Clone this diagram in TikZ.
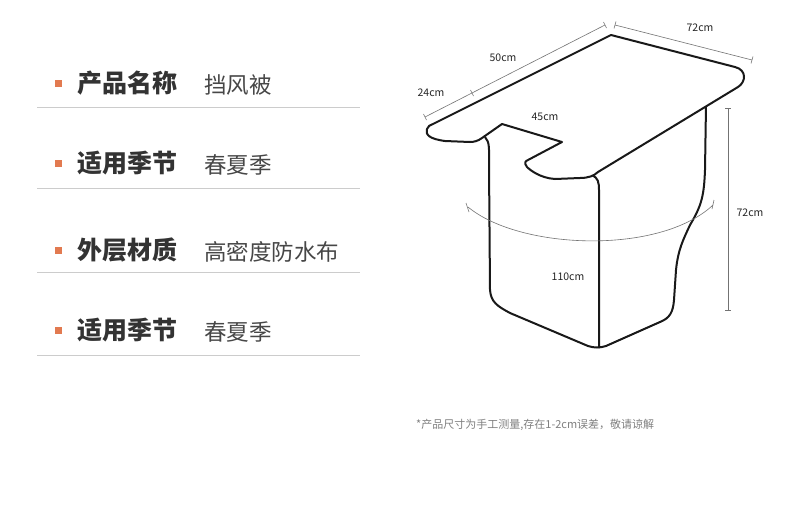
\documentclass[tikz,border=0pt]{standalone}
\usepackage{fontspec}
\setmainfont{Noto Sans CJK SC}
\newfontfamily\cjk{Noto Sans CJK SC}
\definecolor{bul}{RGB}{226,122,80}
\begin{document}
\begin{tikzpicture}[x=1pt,y=-1pt,
  head/.style={anchor=west,inner sep=0pt,font=\cjk\fontsize{25}{27}\selectfont\bfseries,text=black!80},
  val/.style={anchor=west,inner sep=0pt,font=\cjk\fontsize{22.5}{24}\selectfont,text=black!72},
  sep/.style={draw=black!20,line width=0.8pt},
  bullet/.style={fill=bul,minimum size=7pt,inner sep=0pt},
  outline/.style={line width=2pt,line join=round,black!90},
  dim/.style={draw=black!55,line width=0.6pt},
  dimlab/.style={font=\fontsize{10.5}{11}\selectfont,text=black!85,inner sep=0pt}]
\useasboundingbox (0,0) rectangle (790,525);
\fill[white] (0,0) rectangle (790,525);
\foreach \y/\h/\v/\i in {83/产品名称/挡风被/a,163/适用季节/春夏季/b,250/外层材质/高密度防水布/c,330/适用季节/春夏季/d}{
  \node[bullet] (b\i) at (58,\y) {};
  \node[head] (h\i) at (77,\y) {\h};
  \node[val] (v\i) at (204,\y+2) {\v};
}
\foreach \y in {107,188,272,355}{\draw[sep] (37,\y) -- (360,\y);}
% body
\draw[outline] (485,137) .. controls (490,142) and (489,150) .. (489,165) -- (490,290) .. controls (491,302) and (497,306) .. (510,313) -- (588,346) .. controls (594,348) and (600,348) .. (606,346) -- (660,322) .. controls (670,318) and (673,312) .. (674,300) -- (676,270) .. controls (678,250) and (683,240) .. (690,225) .. controls (702,205) and (704,195) .. (705,170) -- (706,105);
\draw[outline] (592,175) .. controls (598,178) and (599,182) .. (599,190) -- (599,348);
% top
\draw[outline,fill=white] (611,35) -- (735,67) .. controls (747,70) and (746,82) .. (738,87) -- (598,172) .. controls (594,176) and (588,178) .. (580,178) -- (555,179) .. controls (540,178) and (530,170) .. (527,167) .. controls (524,163) and (525,161) .. (528,160) -- (562,142) -- (502,124) -- (482,138) .. controls (478,141) and (474,142) .. (470,142) -- (445,141) .. controls (430,139) and (425,135) .. (427,129) .. controls (428,126) and (430,125) .. (433,124) -- cycle;
% dimension lines
\coordinate (d1) at (425,117); \coordinate (d2) at (605,25); \coordinate (dm) at (472,93);
\draw[dim] (d1) -- (d2);
\foreach \c in {d1,d2,dm}{\draw[dim] ([shift={(-1.5,-3)}]\c) -- ([shift={(1.5,3)}]\c);}
\coordinate (e1) at (615,25); \coordinate (e2) at (752,60);
\draw[dim] (e1) -- (e2);
\foreach \c in {e1,e2}{\draw[dim] ([shift={(1,-3.5)}]\c) -- ([shift={(-1,3.5)}]\c);}
\coordinate (f1) at (728,108); \coordinate (f2) at (728,310);
\draw[dim] (f1) -- (f2);
\foreach \c in {f1,f2}{\draw[dim] ([shift={(-3,0)}]\c) -- ([shift={(3,0)}]\c);}
\coordinate (g1) at (468,207); \coordinate (g2) at (713,205);
\draw[dim] (g1) .. controls (520,250) and (660,255) .. (g2);
\draw[dim] (466,203) -- (469,212); \draw[dim] (714,200) -- (712,209);
\node[dimlab] (l50) at (503,58) {50cm};
\node[dimlab] (l24) at (431,93) {24cm};
\node[dimlab] (l72a) at (700,28) {72cm};
\node[dimlab] (l45) at (545,117) {45cm};
\node[dimlab] (l72b) at (750,213) {72cm};
\node[dimlab] (l110) at (568,277) {110cm};
\node[anchor=west,inner sep=0pt,font=\cjk\fontsize{11}{12}\selectfont,text=black!50] (note) at (416,425) {*产品尺寸为手工测量,存在1-2cm误差，敬请谅解};
\end{tikzpicture}
\end{document}
